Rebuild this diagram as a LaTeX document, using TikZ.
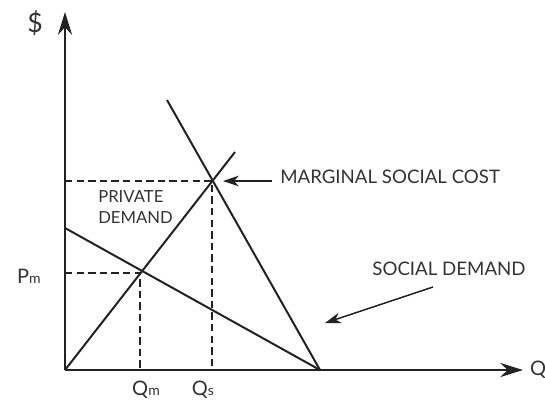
\documentclass[tikz,border=0pt]{standalone}
\usepackage{fontspec}
\setmainfont{Lato}
\usetikzlibrary{arrows.meta}

\begin{document}
\begin{tikzpicture}[x=0.75pt,y=0.75pt,yscale=-1,xscale=1,
  axis/.style={line width=2.2pt,draw={rgb,255:red,34;green,34;blue,34},-{Stealth[length=17pt,width=10.5pt]}},
  curve/.style={line width=1.5pt,draw={rgb,255:red,34;green,34;blue,34}},
  guide/.style={line width=1.7pt,draw={rgb,255:red,34;green,34;blue,34},dash pattern=on 5.5pt off 3.2pt},
  pointer/.style={line width=1.1pt,draw={rgb,255:red,34;green,34;blue,34},-{Stealth[length=12pt,width=8pt]}},
  lbl/.style={inner sep=0.75pt,text={rgb,255:red,51;green,51;blue,51},font=\fontsize{14}{16}\selectfont}]
\useasboundingbox (0,0) rectangle (545,400);

%Points
\coordinate (O) at (65,370);
\coordinate (ytip) at (65,12);
\coordinate (xtip) at (523,370);
\coordinate (pdtop) at (65,228);
\coordinate (dend) at (320,370);
\coordinate (msctop) at (235,152);
\coordinate (sdtop) at (167,100);
\coordinate (m) at (140,273);
\coordinate (s) at (212,181);
\coordinate (pm) at (65,273);
\coordinate (qm) at (140,370);
\coordinate (ps) at (65,181);
\coordinate (qs) at (212,370);

%Straight Lines
\draw [guide] (pm) -- (m) -- (qm) ;
\draw [guide] (ps) -- (s) -- (qs) ;
%Straight Lines
\draw [curve] (pdtop) -- (dend) ;
\draw [curve] (O) -- (msctop) ;
\draw [curve] (sdtop) -- (dend) ;
%Axes
\draw [axis] (O) -- (ytip) ;
\draw [axis] (O) -- (xtip) ;

% Text Node
\node (dollar) at (35,23) [lbl,font=\fontsize{20}{22}\selectfont] {\$};
\node (qlbl) at (538,370) [lbl,font=\fontsize{15}{17}\selectfont] {Q};
\node (pmlbl) at (29,276) [lbl,font=\fontsize{15}{17}\selectfont] {P{\fontsize{10.5}{11}\selectfont m}};
\node (qmlbl) at (146,390) [lbl,font=\fontsize{15}{17}\selectfont] {Q{\fontsize{10.5}{11}\selectfont m}};
\node (qslbl) at (203,390) [lbl,font=\fontsize{15}{17}\selectfont] {Q{\fontsize{10.5}{11}\selectfont s}};
\node (privd) at (97,207) [lbl,anchor=west,align=left,font=\fontsize{12.5}{15.5}\selectfont] {PRIVATE\\DEMAND};
\node (msc) at (279,177) [lbl,anchor=west] {MARGINAL SOCIAL COST};
\node (sd) at (449,269) [lbl] {SOCIAL DEMAND};
\coordinate (sdfrom) at (433,287);
\coordinate (sdto) at (325,323);
\coordinate (mscto) at (223,181);
\coordinate (mscfrom) at (272,181);

%Pointers
\draw [pointer] (mscfrom) -- (mscto) ;
\draw [pointer] (sdfrom) -- (sdto) ;

\end{tikzpicture}
\end{document}
